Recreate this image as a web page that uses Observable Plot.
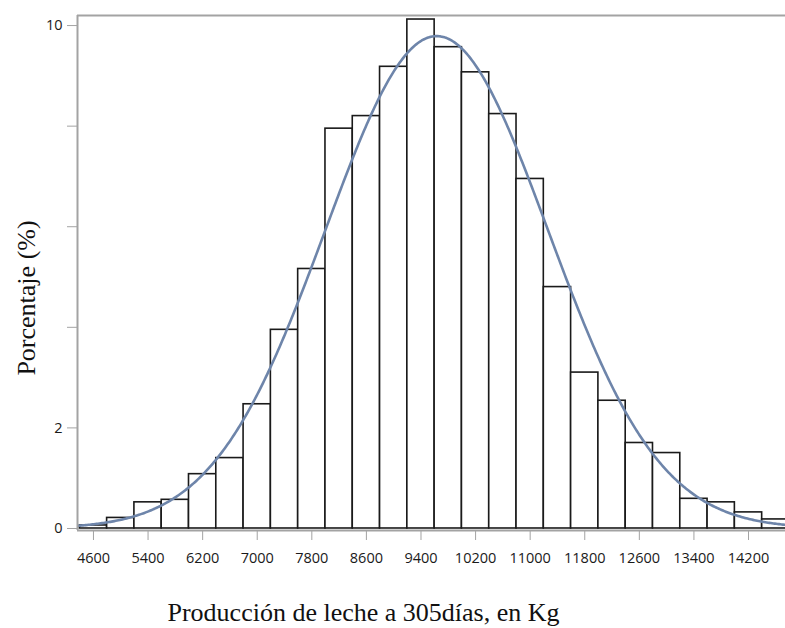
<!DOCTYPE html>
<html>
<head>
<meta charset="utf-8">
<script src="https://cdn.jsdelivr.net/npm/d3@7"></script>
<script src="https://cdn.jsdelivr.net/npm/@observablehq/plot@0.6"></script>
<style>
  html, body { margin: 0; padding: 0; background: #fff; }
  #chart svg { display: block; overflow: hidden; }
</style>
</head>
<body>
<div id="chart"></div>
<script>
// Lower edge of each 400 kg class of 305-day milk yield
const binLower = [4400, 4800, 5200, 5600, 6000, 6400, 6800, 7200, 7600, 8000,
                  8400, 8800, 9200, 9600, 10000, 10400, 10800, 11200, 11600, 12000,
                  12400, 12800, 13200, 13600, 14000, 14400];
const binWidth = 400;
// Share of lactations in each class (%)
const percent = [0.06, 0.21, 0.52, 0.57, 1.08, 1.40, 2.47, 3.95, 5.16, 7.95,
                 8.20, 9.18, 10.12, 9.57, 9.07, 8.24, 6.95, 4.80, 3.10, 2.54,
                 1.70, 1.50, 0.59, 0.52, 0.32, 0.18];

// Fitted normal distribution (kg)
const fitMean = 9630;
const fitSd = 1630;

const xTicks = [4600, 5400, 6200, 7000, 7800, 8600, 9400, 10200, 11000, 11800, 12600, 13400, 14200];
const yTicks = [0, 2, 4, 6, 8, 10];
const yTickLabels = ["0", "2", "", "", "", "10"];

const xDomain = [4366, 14742];
const yDomain = [-0.04, 10.2];

const xTitle = "Producción de leche a 305días, en Kg";
const yTitle = "Porcentaje (%)";

const bins = binLower.map((lo, i) => ({x1: lo, x2: lo + binWidth, pct: percent[i]}));

// Normal density expressed as percent per class width
const curve = d3.range(xDomain[0], xDomain[1] + 1, 20).map(x => ({
  x,
  y: 100 * binWidth * Math.exp(-0.5 * ((x - fitMean) / fitSd) ** 2) / (fitSd * Math.sqrt(2 * Math.PI))
}));

const frameColor = "#a3a3a3";
const tickFont = "'Open Sans', sans-serif";
const titleFont = "'Liberation Serif', 'Times New Roman', serif";

const chart = Plot.plot({
  width: 785,
  height: 628,
  marginLeft: 77,
  marginRight: 0,
  marginTop: 15,
  marginBottom: 98,
  style: {fontFamily: tickFont, fontSize: "14.5px", color: "#222"},
  x: {domain: xDomain},
  y: {domain: yDomain},
  marks: [
    Plot.rectY(bins, {x1: "x1", x2: "x2", y: "pct", fill: "white", stroke: "#1a1a1a", strokeWidth: 1.6, clip: true}),
    Plot.line(curve, {x: "x", y: "y", stroke: "#6e85aa", strokeWidth: 2.6, clip: true}),
    // open frame: left, top and bottom edges
    Plot.ruleX([xDomain[0]], {stroke: frameColor, strokeWidth: 2}),
    Plot.ruleY([yDomain[0], yDomain[1]], {stroke: frameColor, strokeWidth: 2}),
    Plot.axisX({
      ticks: xTicks, tickSize: 10, tickPadding: 12, tickFormat: d => String(d),
      stroke: frameColor, fill: "#1a1a1a", label: null
    }),
    Plot.axisY({
      ticks: yTicks, tickSize: 10, tickPadding: 5,
      tickFormat: d => yTickLabels[yTicks.indexOf(d)],
      stroke: frameColor, fill: "#1a1a1a", label: null
    }),
    Plot.text([yTitle], {
      frameAnchor: "left", textAnchor: "middle", lineAnchor: "middle",
      dx: -51, dy: 25, rotate: -90,
      fontSize: 26, fontFamily: titleFont, fill: "#111"
    }),
    Plot.text([xTitle], {
      frameAnchor: "bottom", textAnchor: "middle", lineAnchor: "middle",
      dx: -68, dy: 82,
      fontSize: 26, fontFamily: titleFont, fill: "#111"
    })
  ]
});

document.getElementById("chart").appendChild(chart);
</script>
</body>
</html>
